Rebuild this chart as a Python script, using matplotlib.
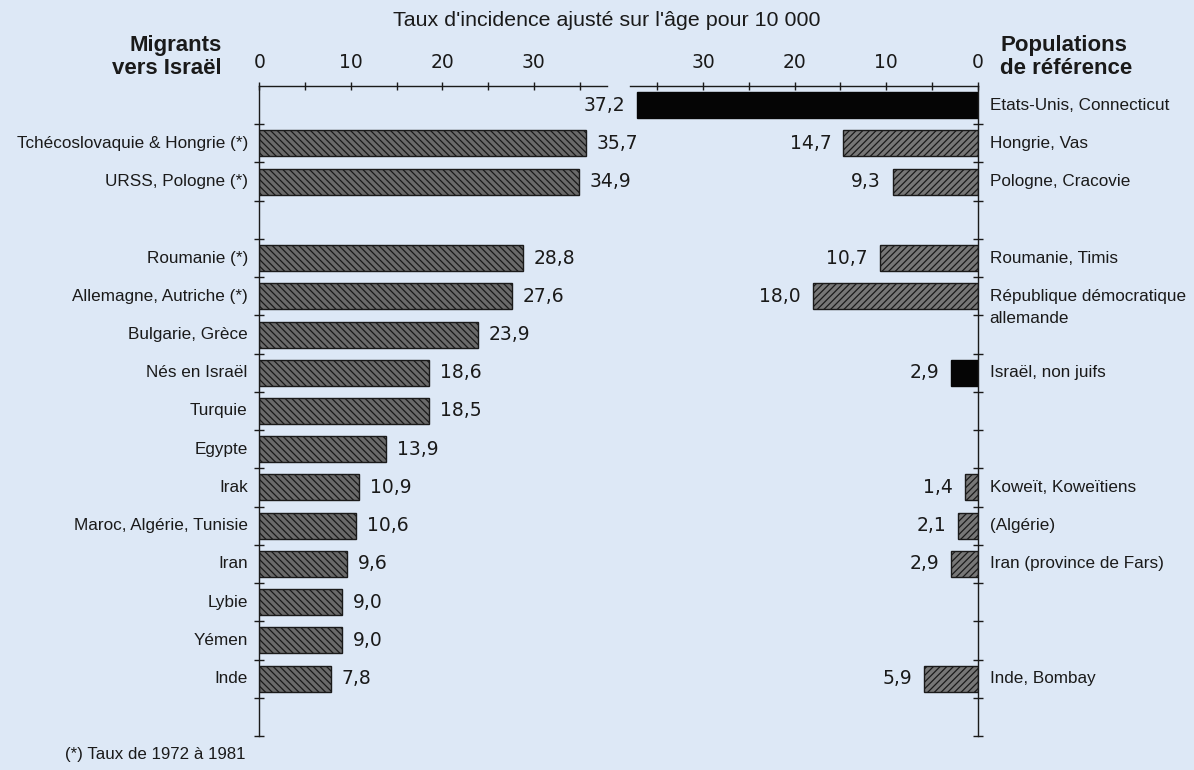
import numpy as np
import matplotlib
matplotlib.use("Agg")
import matplotlib.pyplot as plt
from matplotlib.ticker import MultipleLocator

nan = np.nan

# Rows, top to bottom (blank rows are spacers)
migrant_labels = [
    "", "Tchécoslovaquie & Hongrie (*)", "URSS, Pologne (*)", "",
    "Roumanie (*)", "Allemagne, Autriche (*)", "Bulgarie, Grèce",
    "Nés en Israël", "Turquie", "Egypte", "Irak",
    "Maroc, Algérie, Tunisie", "Iran", "Lybie", "Yémen", "Inde",
]
migrant_rates = [nan, 35.7, 34.9, nan, 28.8, 27.6, 23.9, 18.6, 18.5,
                 13.9, 10.9, 10.6, 9.6, 9.0, 9.0, 7.8]

reference_labels = [
    "Etats-Unis, Connecticut", "Hongrie, Vas", "Pologne, Cracovie", "",
    "Roumanie, Timis", "République démocratique\nallemande", "",
    "Israël, non juifs", "", "", "Koweït, Koweïtiens", "(Algérie)",
    "Iran (province de Fars)", "", "", "Inde, Bombay",
]
reference_rates = [37.2, 14.7, 9.3, nan, 10.7, 18.0, nan, 2.9, nan, nan,
                   1.4, 2.1, 2.9, nan, nan, 5.9]
reference_solid = [True, False, False, False, False, False, False, True,
                   False, False, False, False, False, False, False, False]

axis_ticks = [0, 10, 20, 30]

plt.rcParams["font.family"] = ["Liberation Sans", "DejaVu Sans"]
plt.rcParams["hatch.linewidth"] = 0.9

NUM_FONT = ["DejaVu Sans"]
BG = "#dde8f6"
INK = "#1a1a1a"
W, H = 1194, 770
XMAX = 38.0
BAR_H = 0.68


def fx(px):
    return px / W


def fy(py):
    return 1 - py / H


def fmt(v):
    return f"{v:.1f}".replace(".", ",")


fig = plt.figure(figsize=(W / 100, H / 100), dpi=100, facecolor=BG)

ax_bottom, ax_top = fy(736), fy(86)
axL = fig.add_axes([fx(259.3), ax_bottom, fx(347.7), ax_top - ax_bottom])
axR = fig.add_axes([fx(630), ax_bottom, fx(347.7), ax_top - ax_bottom])

for ax, side in ((axL, "left"), (axR, "right")):
    ax.set_facecolor("none")
    ax.set_ylim(16.5, -0.5)
    for s in ax.spines.values():
        s.set_visible(False)
    for name in ("top", side):
        ax.spines[name].set_visible(True)
        ax.spines[name].set_linewidth(1.0)
        ax.spines[name].set_color(INK)
    ax.xaxis.set_ticks_position("top")
    ax.set_xticks(axis_ticks)
    ax.set_xticklabels([str(t) for t in axis_ticks], family=NUM_FONT)
    ax.xaxis.set_minor_locator(MultipleLocator(5))
    ax.tick_params(axis="x", which="both", direction="inout", length=6,
                   width=1.0, color=INK, labelsize=13.5, pad=7,
                   labelcolor=INK)
    ax.yaxis.set_ticks_position(side)
    ax.set_yticks(np.arange(0.5, 16.6, 1.0))
    ax.set_yticklabels([])
    ax.tick_params(axis="y", which="both", direction="inout", length=7,
                   width=1.0, color=INK)

axL.set_xlim(0, XMAX)
axR.set_xlim(XMAX, 0)

# Migrants to Israel
for r, (lab, v) in enumerate(zip(migrant_labels, migrant_rates)):
    if lab:
        axL.text(-1.25, r, lab, ha="right", va="center", fontsize=12.3,
                 color=INK, clip_on=False)
    if not np.isnan(v):
        axL.barh(r, v, height=BAR_H, color="#6a6a6a", edgecolor=INK,
                 linewidth=1.0, hatch="\\\\\\\\\\")
        axL.text(v + 1.2, r, fmt(v), ha="left", va="center", fontsize=13.5,
                 color=INK, family=NUM_FONT)

# Reference populations
for r, (lab, v, solid) in enumerate(zip(reference_labels, reference_rates,
                                        reference_solid)):
    if lab:
        if "\n" in lab:
            axR.text(-1.3, r - 0.2, lab, ha="left", va="top", fontsize=12.3,
                     color=INK, clip_on=False, linespacing=1.62)
        else:
            axR.text(-1.3, r, lab, ha="left", va="center", fontsize=12.3,
                     color=INK, clip_on=False)
    if not np.isnan(v):
        if solid:
            axR.barh(r, v, height=BAR_H, color="#050505", edgecolor="#050505",
                     linewidth=1.0)
        else:
            axR.barh(r, v, height=BAR_H, color="#777777", edgecolor=INK,
                     linewidth=1.0, hatch="/////")
        axR.text(v + 1.3, r, fmt(v), ha="right", va="center", fontsize=13.5,
                 color=INK, family=NUM_FONT)

fig.text(fx(607), fy(20), "Taux d'incidence ajusté sur l'âge pour 10 000",
         ha="center", va="center", fontsize=15.4, color=INK)
fig.text(fx(222), fy(57), "Migrants\nvers Israël", ha="right", va="center",
         fontsize=16, fontweight="bold", color=INK, linespacing=1.08,
         multialignment="right")
fig.text(fx(1000), fy(57), "Populations\nde référence", ha="left",
         va="center", fontsize=16, fontweight="bold", color=INK,
         linespacing=1.08)
fig.text(fx(65), fy(755), "(*) Taux de 1972 à 1981", ha="left", va="center",
         fontsize=12.2, color=INK)

fig.savefig("out.png", dpi=100, facecolor=BG)
